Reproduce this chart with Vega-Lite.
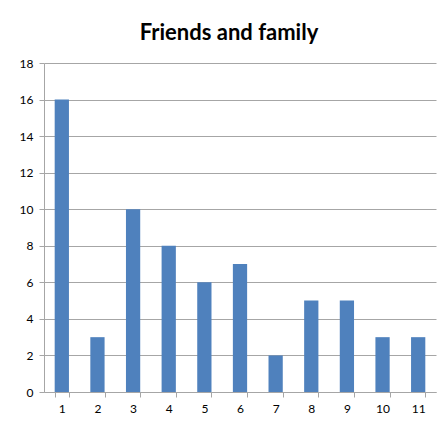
{
  "$schema": "https://vega.github.io/schema/vega-lite/v6.json",
  "width": 392,
  "height": 329,
  "autosize": {"type": "none"},
  "padding": {"left": 44, "top": 63, "right": 2, "bottom": 36},
  "background": "white",
  "title": {"text": "Friends and family", "font": "Lato", "fontSize": 22, "fontWeight": "bold", "color": "#000000", "anchor": "middle", "dx": -11, "offset": 12},
  "data": {"values": [
    {"k": "1", "v": 16}, {"k": "2", "v": 3}, {"k": "3", "v": 10}, {"k": "4", "v": 8},
    {"k": "5", "v": 6}, {"k": "6", "v": 7}, {"k": "7", "v": 2}, {"k": "8", "v": 5},
    {"k": "9", "v": 5}, {"k": "10", "v": 3}, {"k": "11", "v": 3}
  ]},
  "mark": {"type": "bar", "color": "#4F81BD"},
  "encoding": {
    "x": {"field": "k", "type": "ordinal", "sort": null,
      "scale": {"paddingInner": 0.6, "paddingOuter": 0.3},
      "axis": {"title": null, "labelAngle": 0, "grid": false, "tickBand": "extent", "domainColor": "#a6a6a6", "tickColor": "#a6a6a6", "tickSize": 5, "labelFont": "Lato", "labelFontSize": 12, "labelColor": "#000000", "labelPadding": 6}},
    "y": {"field": "v", "type": "quantitative",
      "scale": {"domain": [0, 18], "nice": false},
      "axis": {"title": null, "values": [0,2,4,6,8,10,12,14,16,18], "grid": true, "gridColor": "#a6a6a6", "domainColor": "#a6a6a6", "tickColor": "#a6a6a6", "tickSize": 5, "labelFont": "Lato", "labelFontSize": 12, "labelColor": "#000000", "labelPadding": 6}}
  },
  "config": {"view": {"stroke": null}}
}
